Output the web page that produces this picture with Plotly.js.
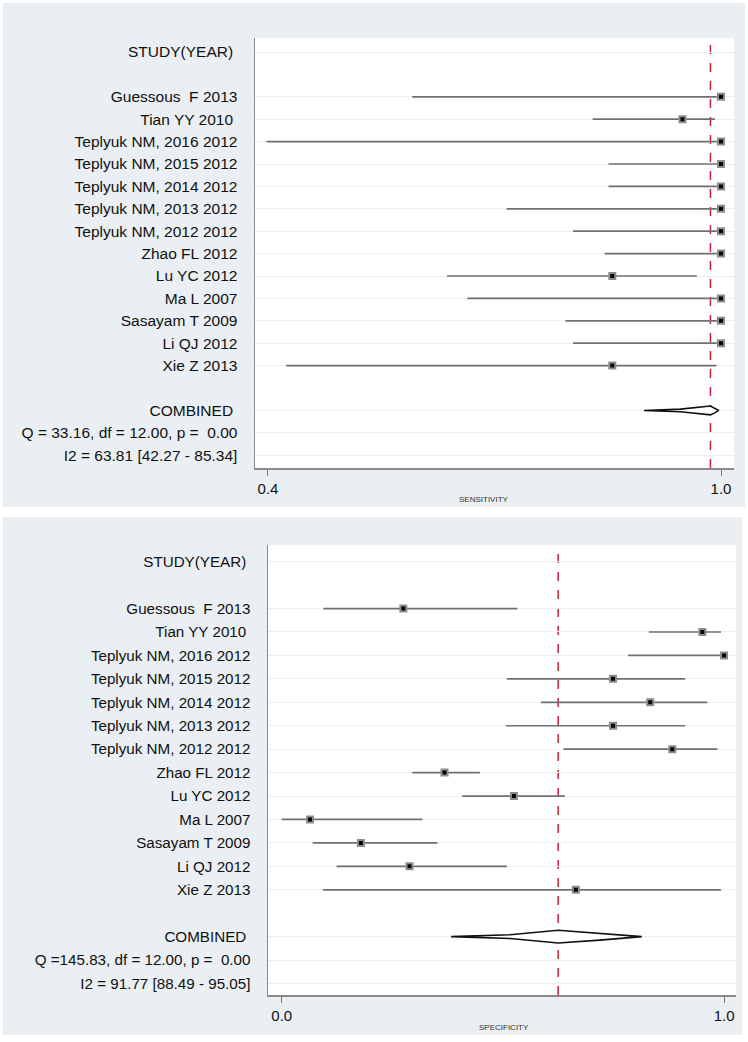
<!DOCTYPE html>
<html><head><meta charset="utf-8">
<script src="https://cdn.plot.ly/plotly-3.0.1.min.js"></script>
<style>html,body{margin:0;padding:0;background:#fff}#chart{width:748px;height:1042px}</style>
</head><body><div id="chart"></div>
<script>
// ---- data ----
const studies = ["Guessous\u00a0 F 2013","Tian YY 2010\u00a0","Teplyuk NM, 2016 2012","Teplyuk NM, 2015 2012","Teplyuk NM, 2014 2012","Teplyuk NM, 2013 2012","Teplyuk NM, 2012 2012","Zhao FL 2012","Lu YC 2012","Ma L 2007","Sasayam T 2009","Li QJ 2012","Xie Z 2013"];
const headerLabel = "STUDY(YEAR)\u00a0";
const combinedLabel = "COMBINED\u00a0";

const sensEst = [1.000,0.949,1.000,1.000,1.000,1.000,1.000,1.000,0.856,1.000,1.000,1.000,0.856];
const sensLo  = [0.591,0.830,0.398,0.851,0.851,0.716,0.804,0.846,0.637,0.664,0.794,0.804,0.424];
const sensHi  = [1.000,0.992,1.000,1.000,1.000,1.000,1.000,1.000,0.968,1.000,1.000,1.000,0.994];
const sensCombined = {est:0.986, lo:0.898, hi:0.997};
const sensStats = ["Q = 33.16, df = 12.00, p =\u00a0 0.00","I2 = 63.81 [42.27 - 85.34]"];

const specEst = [0.275,0.951,1.000,0.749,0.833,0.749,0.883,0.368,0.525,0.064,0.179,0.289,0.665];
const specLo  = [0.094,0.830,0.783,0.509,0.586,0.507,0.637,0.295,0.408,0.000,0.070,0.124,0.093];
const specHi  = [0.533,0.993,1.000,0.912,0.962,0.912,0.985,0.448,0.640,0.318,0.352,0.509,0.993];
const specCombined = {est:0.625, lo:0.383, hi:0.814};
const specStats = ["Q =145.83, df = 12.00, p =\u00a0 0.00","I2 = 91.77 [88.49 - 95.05]"];

const sensTicks = [0.4, 1.0], sensTickText = ["0.4","1.0"];
const specTicks = [0.0, 1.0], specTickText = ["0.0","1.0"];

// ---- build ----
const W = 748, H = 1042;
const FONT = "Liberation Sans, Arial, Helvetica, sans-serif";
const studyRow = i => 2 + i;
const COMB_ROW = 16;

function rowsAndLabels(stats){
  const vals = [0], text = [headerLabel];
  studies.forEach((s,i)=>{ vals.push(studyRow(i)); text.push(s); });
  vals.push(COMB_ROW, COMB_ROW+1, COMB_ROW+2);
  text.push(combinedLabel, stats[0], stats[1]);
  return {vals, text};
}

function panelTraces(est, lo, hi, comb, xa, ya, halfH){
  const cx = [], cy = [];
  est.forEach((e,i)=>{ cx.push(lo[i], hi[i], null); cy.push(studyRow(i), studyRow(i), null); });
  const rows = est.map((e,i)=>studyRow(i));
  const d = comb;
  const px = [d.lo, d.lo+(d.est-d.lo)*0.55, d.est, d.est+(d.hi-d.est)*0.5, d.hi,
              d.est+(d.hi-d.est)*0.5, d.est, d.lo+(d.est-d.lo)*0.55, d.lo];
  const py = [0, -0.3, -1, -0.55, 0, 0.55, 1, 0.3, 0].map(v=>COMB_ROW + v*halfH);
  return [
    {type:'scatter', mode:'lines', x:cx, y:cy, xaxis:xa, yaxis:ya,
     line:{color:'#707070', width:1.7}, hoverinfo:'skip'},
    {type:'scatter', mode:'markers', x:est, y:rows, xaxis:xa, yaxis:ya,
     marker:{symbol:'square', size:6, color:'#050505', line:{color:'#8c8c8c', width:2}}, hoverinfo:'skip'},
    {type:'scatter', mode:'lines', x:px, y:py, xaxis:xa, yaxis:ya, fill:'toself',
     fillcolor:'#ffffff', line:{color:'#111', width:1.6}, hoverinfo:'skip'}
  ];
}

const traces = [
  ...panelTraces(sensEst, sensLo, sensHi, sensCombined, 'x', 'y', 0.2),
  ...panelTraces(specEst, specLo, specHi, specCombined, 'x2', 'y2', 0.27)
];

const topRows = rowsAndLabels(sensStats);
const botRows = rowsAndLabels(specStats);

const px2 = v => v / W, py2 = v => 1 - v / H;

function xAxis(dom, range, tv, tt){
  return {domain:dom, range:range, tickvals:tv, ticktext:tt, ticks:'outside', ticklen:6,
    tickcolor:'#7a7a7a', tickwidth:1, showline:true, linecolor:'#8a8a8a', linewidth:1.5,
    showgrid:false, zeroline:false, tickfont:{size:15, color:'#111'}, ticklabelstandoff:0, fixedrange:true};
}
function yAxis(dom, range, rows, fs){
  return {domain:dom, range:range, tickvals:rows.vals, ticktext:rows.text, ticks:'',
    showline:true, linecolor:'#8a8a8a', linewidth:1.5, showgrid:true, gridcolor:'#eceff1', gridwidth:1,
    zeroline:false, tickfont:{size:fs, color:'#111'}, ticklabelstandoff:13, fixedrange:true};
}

const BG = '#e9eff2';
const layout = {
  width:W, height:H, margin:{l:0,r:0,t:0,b:0}, showlegend:false,
  paper_bgcolor:'#ffffff', plot_bgcolor:'rgba(0,0,0,0)',
  font:{family:FONT, color:'#111'},
  xaxis: Object.assign(xAxis([px2(255), px2(734)], [0.3828, 1.0172], sensTicks, sensTickText), {anchor:'y'}),
  yaxis: Object.assign(yAxis([py2(468), py2(38)], [18.57, -0.625], topRows, 15.5), {anchor:'x'}),
  xaxis2: Object.assign(xAxis([px2(268), px2(736)], [-0.031, 1.027], specTicks, specTickText), {anchor:'y2'}),
  yaxis2: Object.assign(yAxis([py2(995), py2(545)], [18.49, -0.712], botRows, 15.2), {anchor:'x2'}),
  shapes:[
    {type:'rect', xref:'paper', yref:'paper', x0:px2(3), x1:px2(745), y0:py2(507), y1:py2(3), fillcolor:BG, line:{width:0}, layer:'below'},
    {type:'rect', xref:'paper', yref:'paper', x0:px2(3), x1:px2(742), y0:py2(1035), y1:py2(517), fillcolor:BG, line:{width:0}, layer:'below'},
    {type:'rect', xref:'paper', yref:'paper', x0:px2(255), x1:px2(734), y0:py2(468), y1:py2(38), fillcolor:'#ffffff', line:{width:0}, layer:'below'},
    {type:'rect', xref:'paper', yref:'paper', x0:px2(268), x1:px2(736), y0:py2(995), y1:py2(545), fillcolor:'#ffffff', line:{width:0}, layer:'below'},
    {type:'line', xref:'x', yref:'y domain', x0:sensCombined.est, x1:sensCombined.est, y0:0, y1:1,
     line:{color:'#c8203c', width:1.5, dash:'dash'}, layer:'below'},
    {type:'line', xref:'x2', yref:'y2 domain', x0:specCombined.est, x1:specCombined.est, y0:0, y1:1,
     line:{color:'#c8203c', width:1.5, dash:'dash'}, layer:'below'}
  ],
  annotations:[
    {text:'SENSITIVITY', xref:'paper', yref:'paper', x:px2(484), y:py2(499), xanchor:'center', yanchor:'middle',
     showarrow:false, font:{size:8, color:'#333'}},
    {text:'SPECIFICITY', xref:'paper', yref:'paper', x:px2(504), y:py2(1027), xanchor:'center', yanchor:'middle',
     showarrow:false, font:{size:8, color:'#333'}}
  ]
};

Plotly.newPlot('chart', traces, layout, {staticPlot:true, displayModeBar:false});
</script>
</body></html>
